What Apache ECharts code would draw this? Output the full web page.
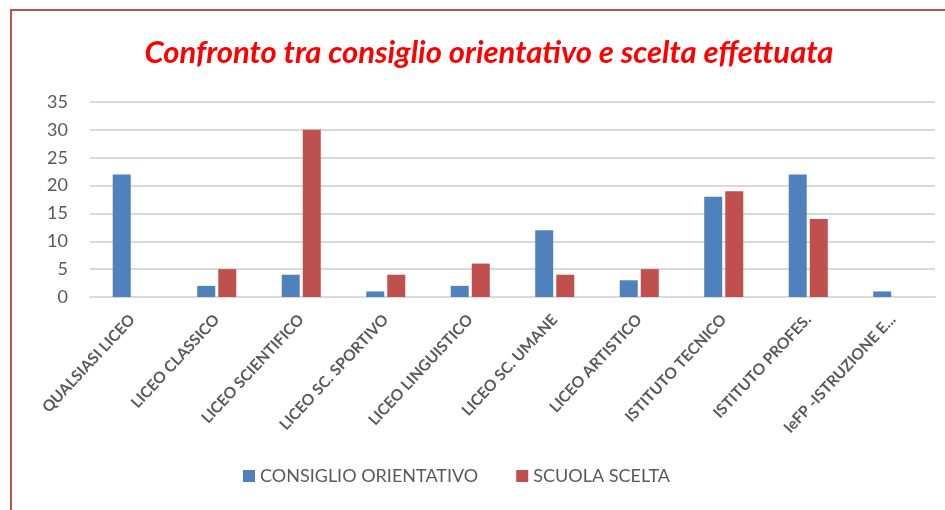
<!DOCTYPE html>
<html><head><meta charset="utf-8">
<script src="https://cdn.jsdelivr.net/npm/echarts@6/dist/echarts.min.js"></script>
<style>html,body{margin:0;padding:0;background:#fff}#c{width:945px;height:510px}</style>
</head><body><div id="c"></div>
<script>
const categories = ['QUALSIASI LICEO','LICEO CLASSICO','LICEO SCIENTIFICO','LICEO SC. SPORTIVO','LICEO LINGUISTICO','LICEO SC. UMANE','LICEO ARTISTICO','ISTITUTO TECNICO','ISTITUTO PROFES.','IeFP -ISTRUZIONE E...'];
const consiglio = [22, 2, 4, 1, 2, 12, 3, 18, 22, 1];
const scuola = [0, 5, 30, 4, 6, 4, 5, 19, 14, 0];
const yTicks = [0, 5, 10, 15, 20, 25, 30, 35];

const chart = echarts.init(document.getElementById('c'));
chart.setOption({
  animation: false,
  title: {
    text: 'Confronto tra consiglio orientativo e scelta effettuata',
    left: 484, textAlign: 'center', top: 32,
    textStyle: { color: '#ff0000', fontFamily: 'Lato', fontWeight: 'bold', fontStyle: 'italic', fontSize: 31 }
  },
  graphic: [{
    type: 'rect', silent: true, z: -1,
    shape: { x: 11, y: 10, width: 1000, height: 600 },
    style: { fill: 'none', stroke: '#c0504d', lineWidth: 2 }
  }],
  legend: {
    top: 462, left: 238, itemGap: 38, itemWidth: 12, itemHeight: 12,
    icon: 'rect',
    textStyle: { color: '#595959', fontFamily: 'Lato', fontSize: 18 },
    data: ['CONSIGLIO ORIENTATIVO', 'SCUOLA SCELTA']
  },
  grid: { left: 90, right: 10, top: 102, height: 195, containLabel: false },
  xAxis: {
    type: 'category', data: categories,
    axisLine: { lineStyle: { color: '#d9d9d9', width: 2 } },
    axisTick: { show: false },
    axisLabel: { rotate: 47, interval: 0, color: '#595959', fontFamily: 'Lato', fontWeight: 'bold', fontSize: 15.5, margin: 20 }
  },
  yAxis: {
    type: 'value', min: yTicks[0], max: yTicks[yTicks.length - 1], interval: 5,
    axisLine: { show: false }, axisTick: { show: false },
    splitLine: { lineStyle: { color: '#d9d9d9', width: 2 } },
    axisLabel: { color: '#595959', fontFamily: 'Lato', fontSize: 18, margin: 22 }
  },
  series: [
    { name: 'CONSIGLIO ORIENTATIVO', type: 'bar', data: consiglio, barWidth: 18, barGap: '17%',
      itemStyle: { color: '#4f81bd' } },
    { name: 'SCUOLA SCELTA', type: 'bar', data: scuola, barWidth: 18,
      itemStyle: { color: '#c0504d' } }
  ]
});
</script></body></html>
